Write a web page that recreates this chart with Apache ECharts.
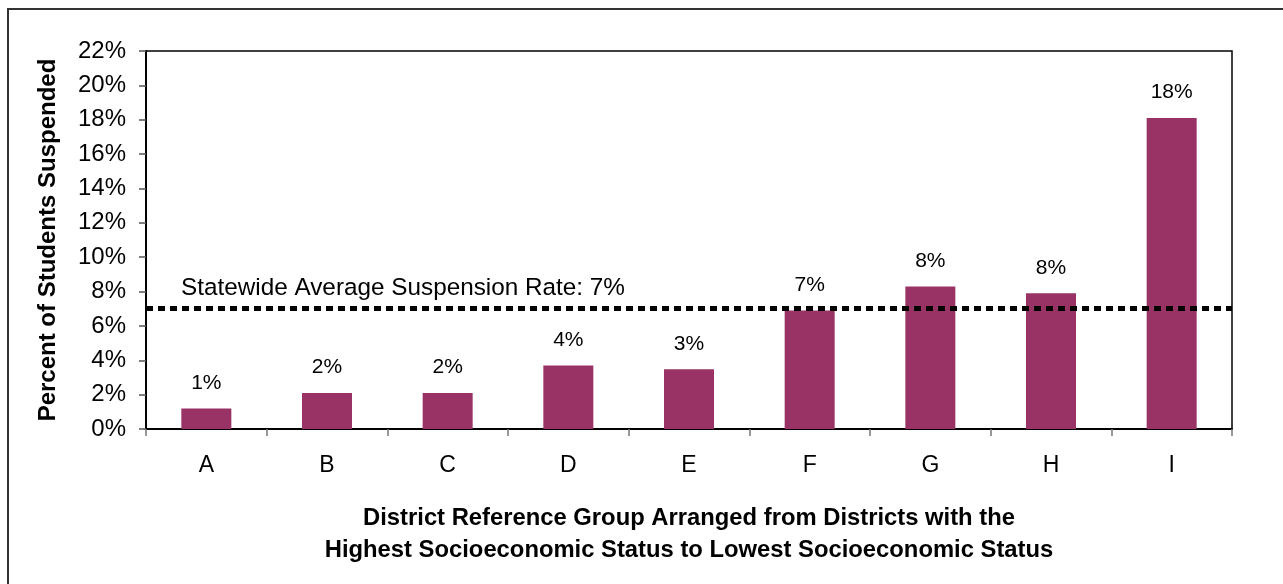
<!DOCTYPE html>
<html>
<head>
<meta charset="utf-8">
<script src="https://cdn.jsdelivr.net/npm/echarts@6/dist/echarts.min.js"></script>
<style>
html,body{margin:0;padding:0;background:#fff;}
#chart{width:1283px;height:584px;}
</style>
</head>
<body>
<div id="chart"></div>
<script>
const categories = ['A', 'B', 'C', 'D', 'E', 'F', 'G', 'H', 'I'];
const suspensionRates = [1.2, 2.1, 2.1, 3.7, 3.48, 6.9, 8.3, 7.9, 18.1];
const statewideAverage = 7;
const statewideLabel = 'Statewide Average Suspension Rate: 7%';
const yAxisTitle = 'Percent of Students Suspended';
const xAxisTitle = 'District Reference Group Arranged from Districts with the\nHighest Socioeconomic Status to Lowest Socioeconomic Status';
const yMin = 0, yMax = 22, yStep = 2;

const FONT = '"Liberation Sans", Arial, Helvetica, sans-serif';
const chart = echarts.init(document.getElementById('chart'), null, {renderer: 'canvas'});
chart.setOption({
  animation: false,
  backgroundColor: '#fff',
  textStyle: {fontFamily: FONT, color: '#000'},
  graphic: [{
    type: 'rect',
    silent: true,
    shape: {x: 8, y: 9, width: 1400, height: 700},
    style: {fill: 'none', stroke: '#333', lineWidth: 2}
  }],
  grid: {
    left: 146, right: 51, top: 51, bottom: 155,
    show: true, borderColor: '#000', borderWidth: 1.5, backgroundColor: 'transparent'
  },
  xAxis: {
    type: 'category',
    data: categories,
    name: xAxisTitle,
    nameLocation: 'middle',
    nameGap: 73,
    nameTextStyle: {fontFamily: FONT, fontSize: 23.8, fontWeight: 'bold', color: '#000', lineHeight: 32},
    axisLine: {lineStyle: {color: '#000', width: 2}},
    axisTick: {show: true, length: 7, lineStyle: {color: '#777', width: 1.5}},
    axisLabel: {fontFamily: FONT, fontSize: 23, color: '#000', margin: 25}
  },
  yAxis: {
    type: 'value',
    min: yMin, max: yMax, interval: yStep,
    name: yAxisTitle,
    nameLocation: 'middle',
    nameGap: 86,
    nameTextStyle: {fontFamily: FONT, fontSize: 24, fontWeight: 'bold', color: '#000'},
    splitLine: {show: false},
    axisLine: {show: true, lineStyle: {color: '#000', width: 2}},
    axisTick: {show: true, length: 7, lineStyle: {color: '#555', width: 1.5}},
    axisLabel: {fontFamily: FONT, fontSize: 24, color: '#000', margin: 20, formatter: '{value}%'}
  },
  series: [{
    type: 'bar',
    data: suspensionRates,
    barWidth: 50,
    itemStyle: {color: '#993366'},
    label: {
      show: true, position: 'top', distance: 15,
      fontFamily: FONT, fontSize: 21, color: '#000',
      formatter: p => Math.round(p.value) + '%'
    },
    markLine: {
      silent: true,
      symbol: ['none', 'none'],
      lineStyle: {color: '#000', width: 5, type: [7, 5]},
      label: {
        show: true, position: 'insideStartTop',
        formatter: statewideLabel,
        fontFamily: FONT, fontSize: 24.3, color: '#000',
        distance: [35, 8]
      },
      data: [{yAxis: statewideAverage}]
    }
  }]
});
</script>
</body>
</html>
